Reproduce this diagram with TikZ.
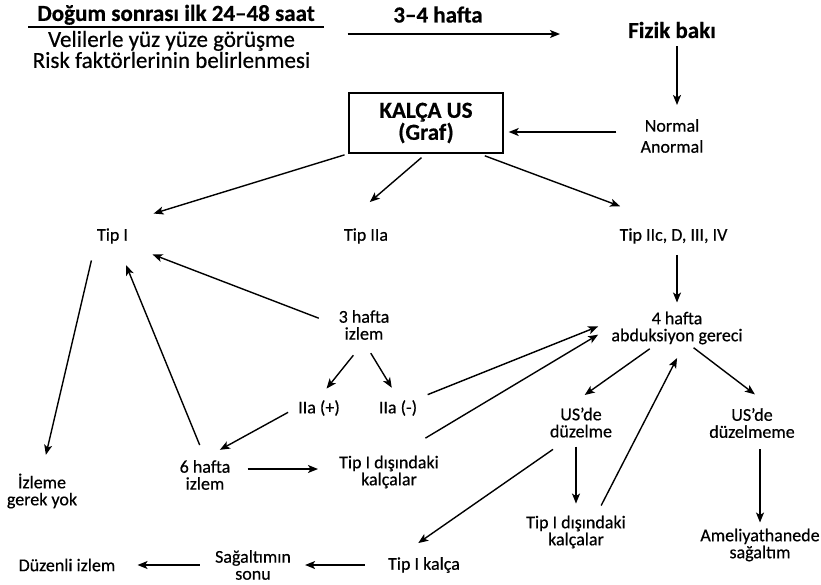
\documentclass[tikz,border=0pt]{standalone}
\usepackage{fontspec}
\setmainfont{Carlito}[FakeBold=0.5]
\usetikzlibrary{arrows.meta}

\tikzstyle{txt} = [align=center, inner sep=2pt, font=\fontsize{18}{17}\selectfont]
\tikzstyle{strong} = [align=center, inner sep=2pt, font=\fontsize{23}{22}\selectfont\bfseries]
\tikzstyle{head} = [align=center, inner sep=2pt, font=\fontsize{23}{21}\selectfont]
\tikzstyle{usbox} = [draw, line width=1.4pt, minimum width=154pt, minimum height=60pt, align=center, font=\fontsize{23}{22}\selectfont\bfseries]
\tikzstyle{conn} = [-{Stealth[length=10pt,width=8pt,inset=2.5pt]}, line width=1.4pt]

\begin{document}
\begin{tikzpicture}[x=1pt,y=-1pt]
	\useasboundingbox (0,0) rectangle (821,584);

	\node[strong, minimum width=295pt] (dogum) at (176,14.8) {Doğum sonrası ilk 24–48 saat};
	\node[head] (veli) at (171.5,49.5) {Velilerle yüz yüze görüşme\\Risk faktörlerinin belirlenmesi};
	\node[strong] (hafta) at (438,14.5) {3–4 hafta};
	\node[strong] (fizik) at (672,30) {Fizik bakı};
	\node[txt, font=\fontsize{18}{21}\selectfont] (normal) at (672,136) {Normal\\Anormal};
	\node[usbox] (kalca) at (426,123) {KALÇA US\\(Graf)};

	\node[txt] (tipI) at (112.5,236) {Tip I};
	\node[txt] (tipIIa) at (366,236) {Tip IIa};
	\node[txt] (tipIIc) at (673.5,236) {Tip IIc, D, III, IV};
	\node[txt] (uc) at (364,325) {3 hafta\\izlem};
	\node[txt] (dort) at (677,328) {4 hafta\\abduksiyon gereci};
	\node[txt] (iiap) at (319,408) {IIa (+)};
	\node[txt] (iiam) at (398,408) {IIa (-)};
	\node[txt] (usd) at (581,422.5) {US’de\\düzelme};
	\node[txt] (usdm) at (752,423) {US’de\\düzelmeme};
	\node[txt] (alti) at (205,475) {6 hafta\\izlem};
	\node[txt] (disL) at (389,472) {Tip I dışındaki\\kalçalar};
	\node[txt] (izleme) at (42,491) {İzleme\\gerek yok};
	\node[txt] (disR) at (576,532) {Tip I dışındaki\\kalçalar};
	\node[txt] (ameli) at (760,545) {Ameliyathanede\\sağaltım};
	\node[txt] (tipk) at (424,565) {Tip I kalça};
	\node[txt] (sagal) at (253,565) {Sağaltımın\\sonu};
	\node[txt] (duzen) at (67,565) {Düzenli izlem};

	\draw[line width=1.4pt] (dogum.south west) -- (dogum.south east);
	\draw[conn, shorten <=24pt, shorten >=66pt] ([yshift=-4pt]fizik.west -| dogum.east) -- ([yshift=-4pt]fizik.west);
	\draw[conn, shorten <=6pt, shorten >=12pt] ([xshift=5pt]fizik.south) -- ([xshift=5pt]fizik.south |- normal.north);
	\draw[conn, shorten <=22pt, shorten >=5pt] ([yshift=4pt]normal.west) -- ([yshift=4pt]normal.west -| kalca.east);

	\draw[conn, shorten <=4pt, shorten >=43pt] (kalca.south west) -- (tipI.north);
	\draw[conn, shorten <=6pt, shorten >=37pt] (kalca.south) -- (tipIIa.north west);
	\draw[conn, shorten <=6pt, shorten >=57pt] (kalca.-30) -- (tipIIc.north);
	\draw[conn, shorten <=9pt, shorten >=7pt] (tipIIc.south -| dort.north) -- (dort.north);

	\draw[conn, shorten <=19pt, shorten >=24pt] (uc.west) -- (tipI.south east);
	\draw[conn, shorten <=17pt, shorten >=12pt] (uc.south) -- (iiap.north);
	\draw[conn, shorten <=13pt, shorten >=12pt] (uc.south) -- (iiam.north);
	\draw[conn, shorten <=9pt, shorten >=17pt] (iiap.west) -- (alti.north);
	\draw[conn, shorten <=9pt, shorten >=12pt] (iiam.north east) -- ([yshift=6pt]dort.west);
	\draw[conn, shorten <=14pt, shorten >=21pt] (alti.north) -- (tipI.-60);
	\draw[conn, shorten <=15pt, shorten >=17pt] (tipI.south west) -- (izleme.north);
	\draw[conn, shorten <=15pt, shorten >=19pt] ([yshift=6pt]alti.east) -- ([yshift=6pt]alti.east -| disL.west);
	\draw[conn, shorten <=30pt, shorten >=13pt] (disL.60) -- (dort.west);

	\draw[conn, shorten <=4pt, shorten >=18pt] ([xshift=-24pt]dort.south) -- ([xshift=-11pt]usd.north);
	\draw[conn, shorten <=2pt, shorten >=19pt] ([xshift=15pt]dort.south) -- ([xshift=18pt]usdm.north);
	\draw[conn, shorten <=9pt, shorten >=13pt] ([xshift=21pt]disR.north) -- ([xshift=6pt]dort.south);
	\draw[conn, shorten <=7pt, shorten >=10pt] (usd.south -| disR.north) -- (disR.north);
	\draw[conn, shorten <=17pt, shorten >=21pt] ([xshift=-14pt]usd.south) -- ([xshift=-23pt]tipk.north);
	\draw[conn, shorten <=9pt, shorten >=4pt] (usdm.south -| ameli.north) -- (ameli.north);
	\draw[conn, shorten <=21pt, shorten >=12pt] (tipk.west) -- (tipk.west -| sagal.east);
	\draw[conn, shorten <=13pt, shorten >=20pt] (sagal.west) -- (duzen.east);
\end{tikzpicture}
\end{document}
